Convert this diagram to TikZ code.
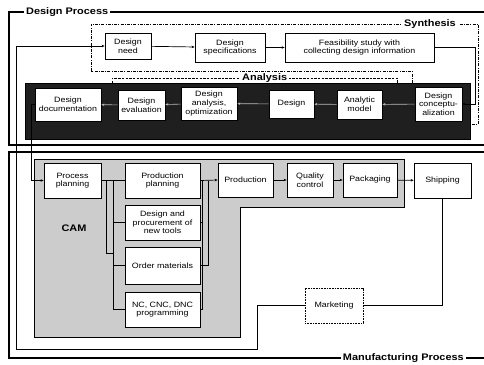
\documentclass[tikz,border=0pt]{standalone}
\usepackage{fontspec}
\setmainfont{Liberation Sans}
\newfontfamily\bxfont[FakeStretch=1.15]{Liberation Sans}
\usetikzlibrary{arrows.meta}
\begin{document}
\begin{tikzpicture}[x=1pt,y=-1pt,
  box/.style={draw, line width=0.8pt, fill=white, align=center, inner sep=1pt, font=\bxfont\fontsize{7.7}{8.6}\selectfont},
  lbl/.style={font=\bxfont\bfseries\fontsize{9.5}{10}\selectfont, fill=white, inner xsep=2pt, inner ysep=0.5pt},
  arr/.style={-{Stealth[length=3pt,width=2.5pt]}, line width=0.7pt},
  garr/.style={-{Stealth[length=3pt,width=2.5pt]}, line width=0.6pt, draw=gray!55},
  ln/.style={line width=0.7pt},
  frm/.style={line width=1.1pt},
  syn/.style={line width=0.8pt, dash pattern=on 3pt off 1.2pt on 1pt off 1.2pt},
  ana/.style={line width=0.8pt, dash pattern=on 2.5pt off 1.2pt},
]
\useasboundingbox[fill=white] (0,0) rectangle (484,364);
% frames
\draw[frm] (484,12) -- (9,12) -- (9,145) -- (484,145);
\draw[frm] (484,152) -- (9,152) -- (9,358) -- (484,358);
\node[lbl, anchor=west] (dp) at (24,12) {Design Process};
\node[lbl, anchor=east] (mp) at (466,358) {Manufacturing Process};
% synthesis / analysis frames
\draw[syn] (412,83) -- (412,71) -- (91,71) -- (91,24) -- (478,24) -- (478,124) -- (470,124);
\node[lbl, anchor=west, inner xsep=3pt] (syn) at (401,24) {Synthesis};
\draw[ana] (112,83) -- (112,78) -- (397,78) -- (397,83);
\node[lbl, anchor=west] (ana) at (240,78) {Analysis};
% black analysis band
\node[fill=black!88, draw=black, minimum width=445pt, minimum height=56pt, inner sep=0pt] (band) at (247.5,111) {};
% CAM region
\draw[fill=gray!40, line width=0.8pt] (34,159) -- (404,159) -- (404,207) -- (240,207) -- (240,337) -- (34,337) -- cycle;
\node[font=\bxfont\bfseries\fontsize{9.5}{10}\selectfont] (cam) at (74,228) {CAM};
% top row
\node[box, minimum width=46pt, minimum height=26pt] (need) at (128,46) {Design\\need};
\node[box, minimum width=70pt, minimum height=29pt] (spec) at (230,47.5) {Design\\specifications};
\node[box, minimum width=149pt, minimum height=29pt] (feas) at (359.5,47.5) {Feasibility study with\\collecting design information};
% band boxes
\node[box, minimum width=66pt, minimum height=33pt] (doc) at (68,104.5) {Design\\documentation};
\node[box, minimum width=47pt, minimum height=30pt] (eval) at (141.5,105) {Design\\evaluation};
\node[box, minimum width=56pt, minimum height=33pt] (anal) at (209,103.5) {Design\\analysis,\\optimization};
\node[box, minimum width=45pt, minimum height=28pt] (des) at (291.5,104) {Design};
\node[box, minimum width=45pt, minimum height=29pt] (model) at (359.5,104.5) {Analytic\\model};
\node[box, minimum width=47pt, minimum height=34pt] (concept) at (438.5,104) {Design\\conceptu-\\alization};
% manufacturing boxes
\node[box, minimum width=57pt, minimum height=35pt] (pp) at (72.5,180.5) {Process\\planning};
\node[box, minimum width=75pt, minimum height=35pt] (prodp) at (162.5,180.5) {Production\\planning};
\node[box, minimum width=75pt, minimum height=35pt] (tools) at (162.5,222.5) {Design and\\procurement of\\new tools};
\node[box, minimum width=75pt, minimum height=37pt] (order) at (162.5,265.5) {Order materials};
\node[box, minimum width=75pt, minimum height=35pt] (nc) at (162.5,309.5) {NC, CNC, DNC\\programming};
\node[box, minimum width=55pt, minimum height=34pt] (prod) at (245.5,180) {Production};
\node[box, minimum width=46pt, minimum height=34pt] (qc) at (310,180) {Quality\\control};
\node[box, minimum width=54pt, minimum height=34pt] (pack) at (370,180) {Packaging};
\node[box, minimum width=57pt, minimum height=35pt] (ship) at (442.5,180.5) {Shipping};
\node[box, minimum width=58pt, minimum height=35pt, dash pattern=on 1pt off 0.6pt] (mkt) at (334,305.5) {Marketing};
% connectors: design
\draw[arr] (need) -- (spec);
\draw[arr] (spec) -- (feas);
\draw[arr] (feas.east) -- ++(41,0) |- (concept.east);
\draw[garr] (concept) -- (model);
\draw[garr] (model) -- (des);
\draw[garr] (des) -- (anal);
\draw[garr] (anal) -- (eval);
\draw[garr] (eval) -- (doc);
\draw[arr] (doc.west) -- ++(-3,0) |- (pp.west);
% connectors: manufacturing (double bracket lines)
\coordinate (lo) at (106,180.5);
\coordinate (lb) at (113,180.5);
\coordinate (rb) at (202,180.5);
\coordinate (ro) at (208,180.5);
\draw[ln] (pp.east) -- (prodp.west);
\draw[ln] (lo) -- (106,253) -- (113,253);
\draw[ln] (lb) |- (tools.west);
\draw[ln] (lb) |- (order.west);
\draw[ln] (lb) |- (nc.west);
\draw[ln] (tools.east) -| (rb);
\draw[ln] (order.east) -| (rb);
\draw[ln] (nc.east) -| (rb);
\draw[ln] (ro) -- (208,265.5) -- (order.east);
\draw[arr] (prodp.east) -- (prod.west);
\draw[arr] (prod) -- (qc);
\draw[arr] (qc) -- (pack);
\draw[arr] (pack) -- (ship);
\draw[ln] (ship.south) |- (mkt.east);
\draw[arr] (mkt.west) -| (257,349) -| (16,46) -- (need.west);
\end{tikzpicture}
\end{document}
